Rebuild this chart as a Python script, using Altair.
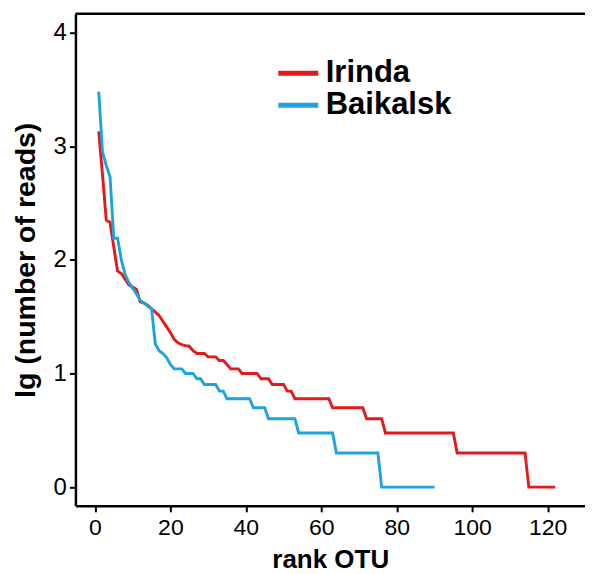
import altair as alt
import pandas as pd

series_names = ["Irinda", "Baikalsk"]
series_colors = ["#e3191c", "#1da3e0"]

irinda_lg = [
    3.13, 2.75, 2.35, 2.33, 2.11, 1.90, 1.88, 1.83, 1.78, 1.76,
    1.74, 1.63, 1.62, 1.60, 1.57, 1.54, 1.51, 1.46, 1.41, 1.36,
    1.30, 1.27, 1.255, 1.245, 1.24, 1.20, 1.176, 1.176, 1.176, 1.146,
    1.146, 1.146, 1.114, 1.114, 1.079, 1.041, 1.041, 1.041, 1.0, 1.0,
    1.0, 1.0, 1.0, 0.954, 0.954, 0.954, 0.903, 0.903, 0.903, 0.903,
    0.845, 0.845, 0.778, 0.778, 0.778, 0.778, 0.778, 0.778, 0.778, 0.778,
    0.778, 0.778, 0.699, 0.699, 0.699, 0.699, 0.699, 0.699, 0.699, 0.699,
    0.699, 0.602, 0.602, 0.602, 0.602, 0.602,
] + [0.477] * 19 + [0.301] * 19 + [0.0] * 8

baikalsk_lg = [
    3.48, 2.95, 2.83, 2.73, 2.19, 2.19, 2.00, 1.87, 1.80, 1.75,
    1.70, 1.645, 1.62, 1.59, 1.57, 1.26, 1.20, 1.176, 1.14, 1.08,
    1.041, 1.041, 1.041, 1.0, 1.0, 1.0, 0.954, 0.954, 0.903, 0.903,
    0.903, 0.903, 0.845, 0.845, 0.778, 0.778, 0.778, 0.778, 0.778, 0.778,
    0.778, 0.699, 0.699, 0.699, 0.699, 0.602, 0.602, 0.602, 0.602, 0.602,
    0.602, 0.602, 0.602,
] + [0.477] * 10 + [0.301] * 12 + [0.0] * 15

x_ticks = [0, 20, 40, 60, 80, 100, 120]
y_ticks = [0, 1, 2, 3, 4]

rows = []
for name, vals in zip(series_names, [irinda_lg, baikalsk_lg]):
    for i, v in enumerate(vals):
        rows.append({"series": name, "rank": i + 1, "lg": v})
df = pd.DataFrame(rows)

W, H = 510, 492.5
FONT = "Liberation Sans"

lines = alt.Chart(df).mark_line(strokeWidth=2.9, strokeJoin="miter").encode(
    x=alt.X("rank:Q",
            scale=alt.Scale(domain=[-5.17, 129.9], nice=False, zero=False),
            axis=alt.Axis(values=x_ticks, title="rank OTU", grid=False,
                          labelFontSize=23, titleFontSize=26, titleFontWeight="bold",
                          tickSize=6, tickWidth=2, domainWidth=2.5, labelPadding=5,
                          titlePadding=7, labelColor="black", titleColor="black",
                          domainColor="black", tickColor="black", labelFont=FONT,
                          titleFont=FONT, labelFlush=False)),
    y=alt.Y("lg:Q",
            scale=alt.Scale(domain=[-0.164, 4.165], nice=False, zero=False),
            axis=alt.Axis(values=y_ticks, title="lg (number of reads)", grid=False,
                          labelFontSize=24, titleFontSize=28.5, titleFontWeight="bold",
                          tickSize=6, tickWidth=2, domainWidth=2.5, labelPadding=3,
                          titlePadding=13, labelColor="black", titleColor="black",
                          domainColor="black", tickColor="black", labelFont=FONT,
                          titleFont=FONT, labelFlush=False)),
    color=alt.Color("series:N",
                    scale=alt.Scale(domain=series_names, range=series_colors),
                    legend=alt.Legend(title=None, orient="none", legendX=200.5, legendY=44,
                                      symbolType="stroke", symbolSize=1600,
                                      symbolStrokeWidth=5, clipHeight=31, rowPadding=0,
                                      labelFontSize=31, labelFontWeight="bold",
                                      labelFont=FONT, labelColor="black",
                                      labelOffset=5, padding=0)),
    order=alt.Order("rank:Q"),
)

top_border = alt.Chart(alt.Data(values=[{}])).mark_rule(
    color="black", strokeWidth=2.6
).encode(x=alt.value(0), x2=alt.value(W + 10), y=alt.value(0))

chart = alt.layer(lines, top_border).properties(
    width=W, height=H,
    autosize=alt.AutoSizeParams(type="none"),
    padding={"left": 67.5, "top": 5.5, "right": 0, "bottom": 68},
    background="white",
).configure_view(stroke=None)

chart.save("out.html", embed_options={"renderer": "svg", "actions": False})
